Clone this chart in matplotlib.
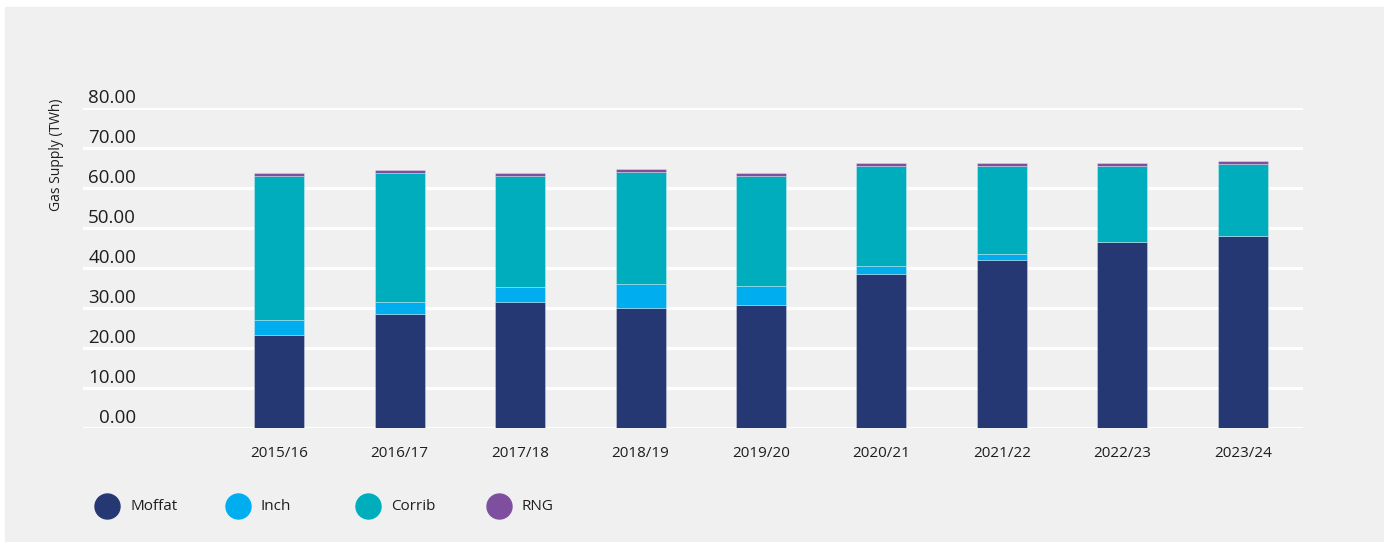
import numpy as np
import matplotlib
matplotlib.use("Agg")
import matplotlib.pyplot as plt
from matplotlib.lines import Line2D
from matplotlib.patches import Rectangle

# data (TWh)
years = ['2015/16', '2016/17', '2017/18', '2018/19', '2019/20',
         '2020/21', '2021/22', '2022/23', '2023/24']
moffat = [23.2, 28.5, 31.5, 30.0, 30.7, 38.4, 42.1, 46.5, 48.0]
inch = [3.9, 3.1, 3.8, 6.1, 4.7, 2.2, 1.5, 0.0, 0.0]
corrib = [36.0, 32.2, 27.8, 27.8, 27.7, 24.8, 21.8, 18.9, 18.1]
rng = [0.75, 0.75, 0.75, 0.75, 0.75, 0.8, 0.8, 0.8, 0.75]
series_names = ['Moffat', 'Inch', 'Corrib', 'RNG']
yticks = [0, 10, 20, 30, 40, 50, 60, 70, 80]

colors = ['#253874', '#00aeef', '#00adbc', '#7f4f9f']
bg = '#f0f0f0'

plt.rcParams['font.family'] = ['Open Sans', 'DejaVu Sans']

fig = plt.figure(figsize=(13.84, 5.42), dpi=100, facecolor='white')
fig.patches.append(Rectangle((5 / 1384, 0), 1, 1 - 7 / 542,
                             transform=fig.transFigure, color=bg, zorder=-10))

ax = fig.add_axes([83 / 1384, 1 - 428 / 542, 1220 / 1384, 320 / 542])
ax.set_facecolor(bg)
ax.patch.set_alpha(0)

x = np.arange(len(years))
bottom = np.zeros(len(years))
for name, vals, c in zip(series_names, [moffat, inch, corrib, rng], colors):
    ax.bar(x, vals, width=0.415, bottom=bottom, color=c,
           edgecolor=(1, 1, 1, 0.35), linewidth=0.6, zorder=3, label=name)
    bottom += np.array(vals)

ax.set_xlim(-1.63, 8.5)
ax.set_ylim(0, 80)
ax.set_yticks(yticks)
ax.yaxis.grid(True, color='white', linewidth=2.2, zorder=0)
ax.set_axisbelow(True)
ax.tick_params(axis='y', length=0, labelleft=False)
ax.tick_params(axis='x', length=0, pad=13, labelsize=11, colors='#1e1e1e')
ax.set_xticks(x)
ax.set_xticklabels(years)
for s in ax.spines.values():
    s.set_visible(False)

# y tick labels sit above their gridlines
for v in yticks:
    ax.text(0.0435, v + 0.35, f'{v:.2f}', transform=ax.get_yaxis_transform(),
            ha='right', va='bottom', fontsize=13.5, color='#1e1e1e')

fig.text(56 / 1384, 1 - 155 / 542, 'Gas Supply (TWh)', rotation=90,
         ha='center', va='center', fontsize=10, color='#1e1e1e')

# legend, evenly spaced
for i, (name, c) in enumerate(zip(series_names, colors)):
    cx = (107 + i * 130.5) / 1384
    cy = 1 - 506 / 542
    fig.add_artist(Line2D([cx], [cy], marker='o', markersize=18, color=c,
                          linestyle='none', transform=fig.transFigure))
    fig.text(cx + 23 / 1384, cy, name, ha='left', va='center',
             fontsize=11, color='#1e1e1e')

fig.savefig('out.png', dpi=100, facecolor=fig.get_facecolor())
